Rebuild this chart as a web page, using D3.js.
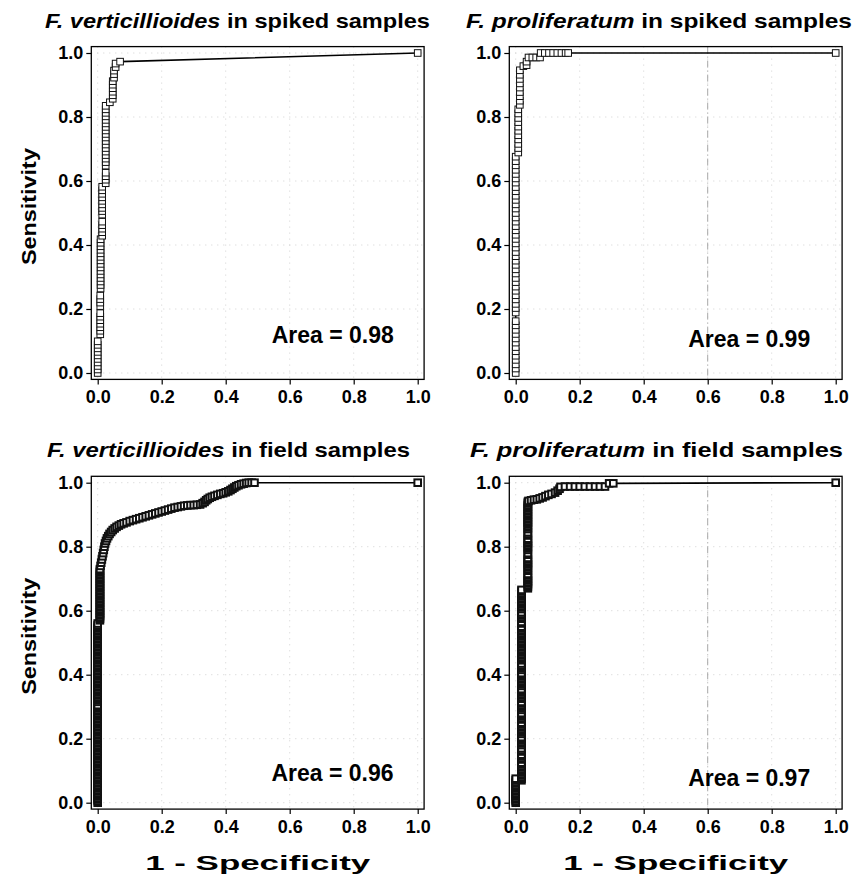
<!DOCTYPE html>
<html>
<head>
<meta charset="utf-8">
<script src="https://cdn.jsdelivr.net/npm/d3@7"></script>
<style>
  body { margin: 0; background: #fff; }
  svg text { font-family: "Liberation Sans", Arial, sans-serif; font-weight: bold; fill: #000; }
</style>
</head>
<body>
<div id="chart"></div>
<script>
// ROC curves, four panels

const tickValues = [0, 0.2, 0.4, 0.6, 0.8, 1.0];
const panelTitles = [
  ["F. verticillioides", " in spiked samples"],
  ["F. proliferatum", " in spiked samples"],
  ["F. verticillioides", " in field samples"],
  ["F. proliferatum", " in field samples"]
];
const areaLabels = ["Area = 0.98", "Area = 0.99", "Area = 0.96", "Area = 0.97"];
const xTitle = "1 - Specificity";
const yTitle = "Sensitivity";

// each run: [1 - specificity, [sensitivity values at that x]]
const fvSpikedRuns = [
  [0.000, [0, .011, .022, .033, .044, .055, .066, .077, .088, .099]],
  [0.008, [.121, .132, .143, .154, .165, .176, .187, .209, .220, .231, .242]],
  [0.009, [.264, .275, .286, .297, .308, .319, .330, .341, .352, .363, .374, .385, .396, .407, .418]],
  [0.014, [.429, .440, .451, .462, .473, .495, .506, .516, .527, .538, .549, .560, .571, .582]],
  [0.025, [.593, .604, .615, .626, .648, .659, .670, .681, .692, .703, .714, .725, .736, .747, .758, .769, .780, .791, .802, .813, .824, .835]],
  [0.038, [.846]],
  [0.047, [.857, .868, .879, .890, .901, .912]],
  [0.051, [.923, .934, .945]],
  [0.056, [.956, .967]],
  [0.070, [.973]],
  [1.000, [1.0]]
];

const fpSpikedRuns = [
  [0.000, [0, .014, .027, .041, .054, .068, .081, .095, .108, .122, .135, .149, .162, .189, .203, .216, .230, .243, .257, .270, .284, .297, .311, .324, .338, .351, .365, .378, .392, .405, .419, .432, .446, .459, .473, .486, .500, .514, .527, .541, .554, .568, .581, .595, .608, .622, .635, .649, .662, .676]],
  [0.008, [.689, .703, .716, .730, .743, .757, .770, .784, .797, .811, .824]],
  [0.013, [.838, .851, .865, .878, .892, .905, .919, .932, .946]],
  [0.024, [.959]],
  [0.034, [.962, .973]],
  [0.040, [.986]], [0.052, [.986]], [0.064, [.986]], [0.076, [.986]],
  [0.078, [1.0]], [0.091, [1.0]], [0.104, [1.0]], [0.117, [1.0]], [0.130, [1.0]],
  [0.143, [1.0]], [0.156, [1.0]], [0.164, [1.0]],
  [1.000, [1.0]]
];

const fvFieldRuns = [
  [0.000, [0, .005, .01, .015, .02, .025, .03, .035, .04, .045, .05, .055, .06, .065, .07, .075, .08, .085, .09, .095,
    .1, .105, .11, .115, .12, .125, .13, .135, .14, .145, .15, .155, .16, .165, .17, .175, .18, .185, .19, .195,
    .2, .205, .21, .215, .22, .225, .23, .235, .24, .245, .25, .255, .26, .265, .27, .275, .28, .285, .29, .295,
    .3, .305, .315, .32, .325, .33, .335, .34, .345, .35, .355, .36, .365, .37, .375, .38, .385, .39, .395,
    .4, .405, .41, .415, .42, .425, .43, .435, .44, .445, .45, .455, .46, .465, .47, .475, .48, .485, .49, .495,
    .5, .505, .51, .515, .52, .525, .53, .535, .54, .545, .55, .555, .56]],
  [0.007, [.57, .575, .58, .585, .59, .595, .6, .605, .61, .615, .62, .625, .63, .635, .64, .645, .65, .655,
    .66, .665, .67, .675, .68, .685, .69, .695, .7, .705, .71, .715, .72, .725, .73]]
];
const fvFieldCurve = [
  [0.009, 0.740], [0.011, 0.750], [0.013, 0.760], [0.015, 0.770], [0.017, 0.780], [0.019, 0.790],
  [0.021, 0.800], [0.023, 0.810], [0.026, 0.818], [0.029, 0.826], [0.033, 0.833], [0.037, 0.840],
  [0.042, 0.846], [0.047, 0.852], [0.053, 0.857], [0.059, 0.862], [0.066, 0.866], [0.073, 0.870],
  [0.081, 0.873], [0.090, 0.876], [0.100, 0.880], [0.110, 0.883], [0.120, 0.886], [0.130, 0.889],
  [0.140, 0.892], [0.150, 0.895], [0.160, 0.898], [0.170, 0.901], [0.180, 0.904], [0.190, 0.907],
  [0.200, 0.910], [0.210, 0.913], [0.220, 0.916], [0.230, 0.919], [0.240, 0.922], [0.250, 0.924],
  [0.260, 0.926], [0.270, 0.928], [0.280, 0.929], [0.290, 0.930], [0.300, 0.930], [0.310, 0.931],
  [0.320, 0.932], [0.328, 0.936], [0.334, 0.940], [0.339, 0.945], [0.344, 0.949], [0.350, 0.953],
  [0.357, 0.956], [0.365, 0.959], [0.374, 0.962], [0.383, 0.965], [0.392, 0.967], [0.400, 0.970],
  [0.408, 0.973], [0.415, 0.977], [0.421, 0.981], [0.427, 0.985], [0.433, 0.989], [0.440, 0.992],
  [0.448, 0.995], [0.456, 0.997], [0.464, 0.999], [0.472, 1.000], [0.481, 1.000], [0.490, 1.000],
  [1.000, 1.000]
];

const fpFieldRuns = [
  [0.000, [0, .005, .01, .015, .02, .025, .03, .035, .04, .045, .05, .055, .06, .065, .07, .075]],
  [0.018, [.07, .075, .08, .085, .09, .095, .1, .105, .11, .115, .12, .125, .135, .14, .145, .15, .16, .165, .17,
    .18, .185, .19, .195, .2, .205, .215, .22, .225, .23, .235, .24, .245, .25, .26, .265, .27, .275, .28,
    .29, .295, .3, .305, .31, .315, .325, .33, .335, .34, .345, .35, .355, .365, .37, .375, .38, .385, .39,
    .395, .4, .405, .415, .42, .425, .43, .435, .445, .45, .455, .46, .465, .47, .475, .48, .485, .49, .495,
    .5, .505, .51, .515, .52, .525, .53, .535, .54, .545, .55, .56, .565, .575, .58, .585, .59, .595, .605,
    .61, .615, .62, .625, .63, .635, .64, .645, .65, .655, .66, .665]],
  [0.038, [.67, .675, .68, .685, .69, .695, .7, .705, .71, .715, .725, .73, .735, .74, .745, .75, .755, .76,
    .765, .775, .78, .79, .795, .8, .805, .81, .815, .82, .825, .835, .84, .845, .855, .86, .865, .87, .875,
    .88, .885, .89, .895, .9, .905, .91, .915, .92, .925, .93, .935, .94]]
];
const fpFieldCurve = [
  [0.040, 0.943], [0.048, 0.945], [0.057, 0.947], [0.066, 0.948], [0.075, 0.951], [0.084, 0.954],
  [0.093, 0.958], [0.102, 0.962], [0.112, 0.965], [0.123, 0.969], [0.131, 0.975], [0.137, 0.981],
  [0.140, 0.987], [0.154, 0.988], [0.170, 0.988], [0.185, 0.988], [0.200, 0.988], [0.216, 0.988],
  [0.232, 0.988], [0.248, 0.988], [0.263, 0.988], [0.279, 0.988], [0.292, 0.998], [0.305, 0.998],
  [1.000, 1.000]
];

// flatten vertical runs into points
function runsToPoints(runs) {
  return runs.flatMap(([fpr, tprs]) => tprs.map((t) => [fpr, t]));
}

const W = 862, H = 877;
const frameSize = 332.8;

const panels = [
  { left: 91.3, top: 46.6, title: panelTitles[0], points: runsToPoints(fvSpikedRuns), markStroke: 1,
    area: areaLabels[0], areaAt: [0.544, 0.095], titleX: 45, titleY: 27.7, titleW: 385, refLine: false },
  { left: 509.3, top: 46.6, title: panelTitles[1], points: runsToPoints(fpSpikedRuns), markStroke: 1,
    area: areaLabels[1], areaAt: [0.539, 0.082], titleX: 466, titleY: 27.7, titleW: 386, refLine: true },
  { left: 91.3, top: 476.3, title: panelTitles[2], points: runsToPoints(fvFieldRuns).concat(fvFieldCurve), markStroke: 2,
    area: areaLabels[2], areaAt: [0.543, 0.068], titleX: 47, titleY: 457, titleW: 363, refLine: false },
  { left: 509.3, top: 476.3, title: panelTitles[3], points: runsToPoints(fpFieldRuns).concat(fpFieldCurve), markStroke: 2,
    area: areaLabels[3], areaAt: [0.539, 0.052], titleX: 470, titleY: 457, titleW: 373, refLine: true }
];

const svg = d3.select("#chart").append("svg")
  .attr("width", W)
  .attr("height", H)
  .attr("viewBox", `0 0 ${W} ${H}`);

const fmt = d3.format(".1f");
const markerSize = 6.6;

panels.forEach((p, i) => {
  const x = d3.scaleLinear().domain([-0.02, 1.02]).range([p.left, p.left + frameSize]);
  const y = d3.scaleLinear().domain([-0.02, 1.02]).range([p.top + frameSize, p.top]);
  const g = svg.append("g");

  // faint dotted grid
  tickValues.forEach((v) => {
    g.append("line")
      .attr("x1", p.left).attr("x2", p.left + frameSize)
      .attr("y1", y(v)).attr("y2", y(v))
      .attr("stroke", "#d2d2d2").attr("stroke-width", 1)
      .attr("stroke-dasharray", "1,5");
    g.append("line")
      .attr("x1", x(v)).attr("x2", x(v))
      .attr("y1", p.top).attr("y2", p.top + frameSize)
      .attr("stroke", "#d2d2d2").attr("stroke-width", 1)
      .attr("stroke-dasharray", "1,5");
  });

  if (p.refLine) {
    g.append("line")
      .attr("x1", x(0.6)).attr("x2", x(0.6))
      .attr("y1", p.top).attr("y2", p.top + frameSize)
      .attr("stroke", "#a8a8a8").attr("stroke-width", 1)
      .attr("stroke-dasharray", "7,3,1,3");
  }

  // frame
  g.append("rect")
    .attr("x", p.left).attr("y", p.top)
    .attr("width", frameSize).attr("height", frameSize)
    .attr("fill", "none").attr("stroke", "#000").attr("stroke-width", 1.3);

  // axes
  const gy = g.append("g")
    .attr("transform", `translate(${p.left},0)`)
    .call(d3.axisLeft(y).tickValues(tickValues).tickFormat(fmt).tickSize(5).tickPadding(3));
  const gx = g.append("g")
    .attr("transform", `translate(0,${p.top + frameSize})`)
    .call(d3.axisBottom(x).tickValues(tickValues).tickFormat(fmt).tickSize(5).tickPadding(6));
  [gy, gx].forEach((ax) => {
    ax.select(".domain").remove();
    ax.selectAll(".tick line").attr("stroke", "#000").attr("stroke-width", 1.2);
    ax.selectAll(".tick text")
      .style("font-family", '"Liberation Sans", Arial, sans-serif')
      .style("font-weight", "bold")
      .style("font-size", "18px")
      .attr("fill", "#000");
  });

  // ROC line + square markers
  const line = d3.line().x((d) => x(d[0])).y((d) => y(d[1]));
  g.append("path")
    .datum(p.points)
    .attr("d", line)
    .attr("fill", "none")
    .attr("stroke", "#000")
    .attr("stroke-width", 1.6);

  g.selectAll("rect.pt")
    .data(p.points)
    .join("rect")
    .attr("class", "pt")
    .attr("x", (d) => x(d[0]) - markerSize / 2)
    .attr("y", (d) => y(d[1]) - markerSize / 2)
    .attr("width", markerSize)
    .attr("height", markerSize)
    .attr("fill", "#fff")
    .attr("stroke", "#111")
    .attr("stroke-width", p.markStroke);

  // area annotation
  g.append("text")
    .attr("x", x(p.areaAt[0]))
    .attr("y", y(p.areaAt[1]))
    .attr("font-size", 23)
    .attr("textLength", 122)
    .attr("lengthAdjust", "spacingAndGlyphs")
    .text(p.area);

  // panel title: italic species + plain rest
  const t = svg.append("text")
    .attr("x", p.titleX)
    .attr("y", p.titleY)
    .attr("font-size", 20.5)
    .attr("textLength", p.titleW)
    .attr("lengthAdjust", "spacingAndGlyphs");
  t.append("tspan").attr("font-style", "italic").text(p.title[0]);
  t.append("tspan").text(p.title[1]);

  // axis titles
  if (i % 2 === 0) {
    svg.append("text")
      .attr("transform", `translate(36,${p.top + 160}) rotate(-90)`)
      .attr("text-anchor", "middle")
      .attr("font-size", 21)
      .attr("textLength", 117)
      .attr("lengthAdjust", "spacingAndGlyphs")
      .text(yTitle);
  }
  if (i >= 2) {
    svg.append("text")
      .attr("x", p.left + frameSize / 2)
      .attr("y", 870)
      .attr("text-anchor", "middle")
      .attr("font-size", 21)
      .attr("textLength", 225)
      .attr("lengthAdjust", "spacingAndGlyphs")
      .text(xTitle);
  }
});
</script>
</body>
</html>
